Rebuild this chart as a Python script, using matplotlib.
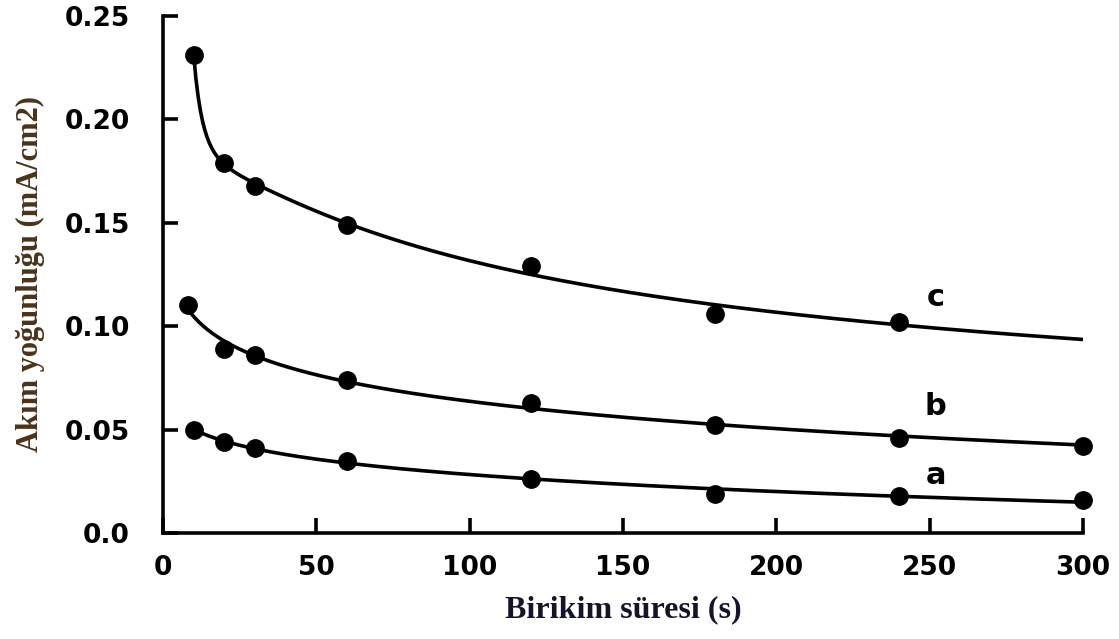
import numpy as np
import matplotlib
matplotlib.use('Agg')
import matplotlib.pyplot as plt

# values
t_a = [10, 20, 30, 60, 120, 180, 240, 300]
j_a = [0.050, 0.044, 0.041, 0.035, 0.026, 0.019, 0.018, 0.016]

t_b = [8, 20, 30, 60, 120, 180, 240, 300]
j_b = [0.110, 0.089, 0.086, 0.074, 0.063, 0.052, 0.046, 0.042]

t_c = [10, 20, 30, 60, 120, 180, 240]
j_c = [0.231, 0.179, 0.168, 0.149, 0.129, 0.106, 0.102]

curve_names = ['a', 'b', 'c']
name_pos = [(252, 0.028), (252, 0.061), (252, 0.114)]

xticks = [0, 50, 100, 150, 200, 250, 300]
yticks = [0.0, 0.05, 0.10, 0.15, 0.20, 0.25]
ytick_labels = ['0.0', '0.05', '0.10', '0.15', '0.20', '0.25']


def to_log(t):
    return np.log(t)


def to_pow(t):
    return t ** -0.6


# transform of time and polynomial degree for each trend line
fits = [(to_log, 2), (to_log, 2), (to_pow, 3)]

fig = plt.figure(figsize=(11.19, 6.39), dpi=100)
ax = fig.add_axes([0.1457, 0.166, 0.822, 0.809])

for (t, j), (f, deg) in zip([(t_a, j_a), (t_b, j_b), (t_c, j_c)], fits):
    t = np.array(t, dtype=float)
    j = np.array(j)
    p = np.polyfit(f(t), j, deg)
    tt = np.linspace(t[0], 300, 400)
    ax.plot(tt, np.polyval(p, f(tt)), color='black', lw=2.6, zorder=2)
    ax.plot(t, j, 'o', color='black', ms=12.5, zorder=3, clip_on=False)

for name, (x, y) in zip(curve_names, name_pos):
    ax.text(x, y, name, fontsize=22, fontweight='bold', family='DejaVu Sans',
            ha='center', va='center')

ax.set_xlim(0, 300)
ax.set_ylim(0, 0.25)
ax.spines['top'].set_visible(False)
ax.spines['right'].set_visible(False)
for s in ['left', 'bottom']:
    ax.spines[s].set_linewidth(2.6)

ax.set_xticks(xticks)
ax.set_yticks(yticks)
ax.set_yticklabels(ytick_labels)
ax.tick_params(direction='in', length=11, width=2.6)
ax.tick_params(axis='y', pad=24)
ax.tick_params(axis='x', pad=16)
for lab in ax.get_xticklabels() + ax.get_yticklabels():
    lab.set_fontfamily('DejaVu Sans')
    lab.set_fontweight('bold')
    lab.set_fontsize(19)

ax.set_xlabel('Birikim süresi (s)', fontsize=23, fontweight='bold',
              family='Liberation Serif', color='#15152a', labelpad=10)
ax.set_ylabel('Akım yoğunluğu (mA/cm2)', fontsize=22, fontweight='bold',
              family='Liberation Serif', color='#4a3318', labelpad=14)

fig.savefig('out.png', dpi=100)
